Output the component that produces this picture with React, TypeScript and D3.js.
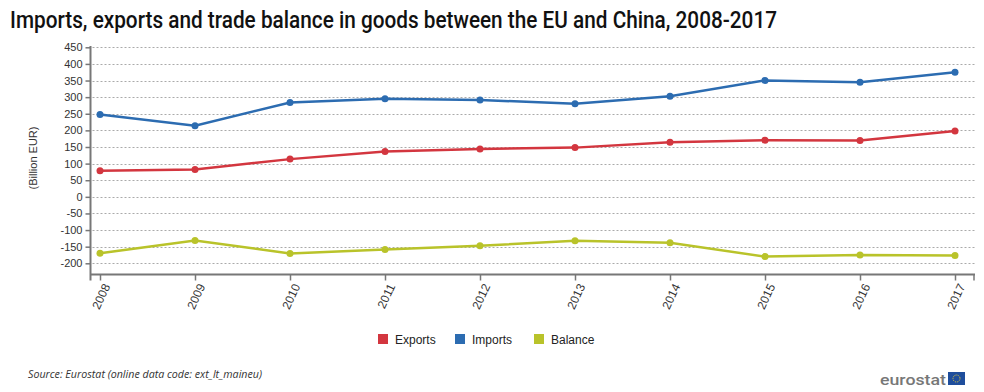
import React, { useEffect, useRef } from "react";
import * as d3 from "d3";

const WIDTH = 984;
const HEIGHT = 392;

const years = ["2008", "2009", "2010", "2011", "2012", "2013", "2014", "2015", "2016", "2017"];
const exportsValues = [78.4, 82.4, 113.5, 136.4, 144.2, 148.1, 164.6, 170.4, 169.9, 198.2];
const importsValues = [247.9, 214.1, 283.9, 295.1, 291.6, 280.1, 302.5, 350.3, 344.6, 374.6];
const balanceValues = [-169.5, -131.7, -170.4, -158.7, -147.4, -132.0, -137.9, -179.9, -174.7, -176.4];
const yTicks = [450, 400, 350, 300, 250, 200, 150, 100, 50, 0, -50, -100, -150, -200];

const seriesNames = ["Exports", "Imports", "Balance"];
const seriesColors = ["#d3363f", "#2c6cb1", "#b9c32a"];

const AXIS_X = 90.5;
const AXIS_Y = 274.5;
const PLOT_RIGHT = 975;

const App = () => {
  const axesRef = useRef(null);

  const xScale = d3.scalePoint().domain(years).range([100, 955]);
  const yScale = d3.scaleLinear().domain([-200, 450]).range([263.3, 47.3]);

  const series = [exportsValues, importsValues, balanceValues];

  useEffect(() => {
    document.body.style.margin = "0";
    const g = d3.select(axesRef.current);
    g.selectAll("*").remove();

    // y axis, plain hyphen for negatives like the original
    const yAxis = g
      .append("g")
      .attr("transform", `translate(${AXIS_X},0)`)
      .call(
        d3
          .axisLeft(yScale)
          .tickValues(yTicks)
          .tickSize(5)
          .tickPadding(3)
          .tickFormat((d) => String(d))
      );
    yAxis.select(".domain").remove();
    yAxis.selectAll(".tick line").attr("stroke", "#777").attr("stroke-width", 1.5);
    yAxis
      .selectAll(".tick text")
      .attr("font-family", "Liberation Sans, Arial, sans-serif")
      .attr("font-size", "11px")
      .attr("fill", "#333");

    // x axis
    const xAxis = g
      .append("g")
      .attr("transform", `translate(0,${AXIS_Y})`)
      .call(d3.axisBottom(xScale).tickSize(6).tickSizeOuter(0));
    xAxis.select(".domain").remove();
    xAxis.selectAll(".tick line").attr("stroke", "#777").attr("stroke-width", 1.5);
    xAxis
      .selectAll(".tick text")
      .attr("font-family", "Liberation Sans, Arial, sans-serif")
      .attr("font-size", "12px")
      .attr("fill", "#333")
      .attr("text-anchor", "end")
      .attr("dy", "0.35em")
      .attr("transform", "translate(-2,6) rotate(-65)");

    // axis lines
    g.append("line")
      .attr("x1", AXIS_X)
      .attr("x2", AXIS_X)
      .attr("y1", 46)
      .attr("y2", AXIS_Y + 6)
      .attr("stroke", "#777")
      .attr("stroke-width", 2);
    g.append("line")
      .attr("x1", AXIS_X)
      .attr("x2", PLOT_RIGHT)
      .attr("y1", AXIS_Y)
      .attr("y2", AXIS_Y)
      .attr("stroke", "#777")
      .attr("stroke-width", 2);
    g.append("line")
      .attr("x1", PLOT_RIGHT - 1)
      .attr("x2", PLOT_RIGHT - 1)
      .attr("y1", AXIS_Y)
      .attr("y2", AXIS_Y + 6)
      .attr("stroke", "#777")
      .attr("stroke-width", 1.5);
  }, []);

  const line = d3
    .line<number>()
    .x((_, i) => xScale(years[i]) as number)
    .y((d) => yScale(d));

  const legendX = [378, 455, 534];

  return (
    <svg width={WIDTH} height={HEIGHT} style={{ display: "block", background: "#fff" }}>
      <text
        x={10}
        y={28}
        fontFamily="Roboto, sans-serif"
        fontWeight={500}
        fontSize={23}
        fill="#111"
        textLength={767}
        lengthAdjust="spacingAndGlyphs"
      >
        Imports, exports and trade balance in goods between the EU and China, 2008-2017
      </text>

      {/* gridlines */}
      {yTicks.map((t) => (
        <line
          key={t}
          x1={AXIS_X + 2}
          x2={PLOT_RIGHT}
          y1={Math.round(yScale(t)) + 0.5}
          y2={Math.round(yScale(t)) + 0.5}
          stroke="#aaa"
          strokeDasharray="2,2"
        />
      ))}

      <text
        transform={`translate(37,158) rotate(-90)`}
        textAnchor="middle"
        fontFamily="Liberation Sans, Arial, sans-serif"
        fontSize={11}
        fill="#333"
      >
        (Billion EUR)
      </text>

      <g ref={axesRef} />

      {series.map((values, s) => (
        <g key={seriesNames[s]}>
          <path d={line(values) ?? ""} fill="none" stroke={seriesColors[s]} strokeWidth={2.5} />
          {values.map((v, i) => (
            <circle key={i} cx={xScale(years[i])} cy={yScale(v)} r={3.5} fill={seriesColors[s]} />
          ))}
        </g>
      ))}

      {/* legend */}
      {seriesNames.map((name, i) => (
        <g key={name}>
          <rect x={legendX[i]} y={334} width={10} height={10} fill={seriesColors[i]} />
          <text
            x={legendX[i] + 17}
            y={344}
            fontFamily="Liberation Sans, Arial, sans-serif"
            fontSize={12}
            fill="#222"
          >
            {name}
          </text>
        </g>
      ))}

      <text
        x={28}
        y={378}
        fontFamily="Open Sans, sans-serif"
        fontStyle="italic"
        fontSize={10}
        fill="#333"
        textLength={234}
        lengthAdjust="spacingAndGlyphs"
      >
        Source: Eurostat (online data code: ext_lt_maineu)
      </text>

      <text
        x={880}
        y={385}
        fontFamily="Roboto, sans-serif"
        fontWeight={500}
        fontSize={15}
        fill="#777"
        textLength={66}
        lengthAdjust="spacingAndGlyphs"
      >
        eurostat
      </text>
      <rect x={948} y={372} width={17} height={13} fill="#1f4e9c" />
      <circle cx={956.5} cy={378.5} r={3.5} fill="none" stroke="#f2d23a" strokeWidth={1} strokeDasharray="1,1" />
    </svg>
  );
};

export default App;
